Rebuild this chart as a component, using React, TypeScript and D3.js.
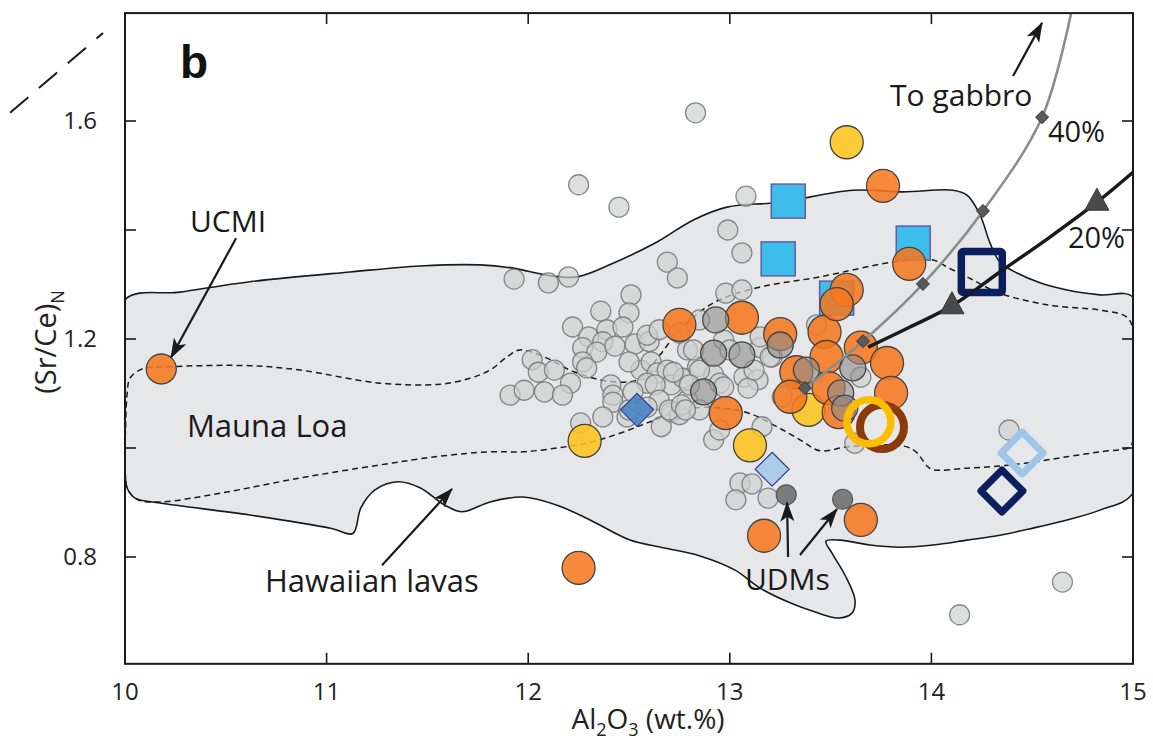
import React from 'react';
import * as d3 from 'd3';

type P = [number, number];

const X_TICKS = [10, 11, 12, 13, 14, 15];
const Y_TICKS = [0.8, 1.0, 1.2, 1.4, 1.6];
const Y_LABELS = [0.8, 1.2, 1.6];
const X_MIN = 10, X_MAX = 15, Y_MIN = 0.604, Y_MAX = 1.798;

const FIELD: P[] = [[10.000,1.272],[10.273,1.286],[10.620,1.305],[11.116,1.323],[11.463,1.334],[11.761,1.336],[11.925,1.330],[12.093,1.317],[12.242,1.314],[12.421,1.339],[12.639,1.378],[12.817,1.418],[12.986,1.442],[13.249,1.451],[13.611,1.473],[13.859,1.470],[14.107,1.473],[14.177,1.464],[14.241,1.428],[14.291,1.376],[14.340,1.341],[14.425,1.321],[14.539,1.303],[14.673,1.290],[14.836,1.281],[15.000,1.277],[15.05,1.1],[15.000,0.917],[14.836,0.886],[14.673,0.868],[14.504,0.853],[14.340,0.840],[14.177,0.831],[14.008,0.822],[13.844,0.818],[13.695,0.822],[13.547,0.831],[13.477,0.829],[13.507,0.807],[13.571,0.767],[13.621,0.721],[13.606,0.697],[13.537,0.688],[13.423,0.699],[13.299,0.716],[13.150,0.743],[13.026,0.776],[12.852,0.802],[12.669,0.817],[12.505,0.831],[12.307,0.868],[12.143,0.895],[11.974,0.910],[11.811,0.901],[11.672,0.883],[11.587,0.895],[11.463,0.927],[11.354,0.938],[11.240,0.923],[11.170,0.890],[11.130,0.843],[11.030,0.852],[10.620,0.877],[10.174,0.899],[10.050,0.908],[10.010,0.927],[10.000,0.960],[9.98,1.1]];

const MAUNA_LOA: P[] = [[10.010,1.097],[10.025,1.128],[10.084,1.145],[10.208,1.149],[10.620,1.151],[10.868,1.143],[11.265,1.119],[11.563,1.117],[11.711,1.128],[11.811,1.143],[11.895,1.167],[11.959,1.180],[12.093,1.165],[12.207,1.143],[12.356,1.125],[12.490,1.121],[12.555,1.128],[12.654,1.171],[12.753,1.217],[12.917,1.266],[13.135,1.294],[13.447,1.314],[13.810,1.341],[14.008,1.345],[14.077,1.332],[14.177,1.314],[14.340,1.284],[14.588,1.262],[14.836,1.253],[14.970,1.240],[15.000,1.217],[15.003,1.12],[15.000,1.015],[14.985,1.002],[14.836,0.993],[14.673,0.984],[14.504,0.974],[14.340,0.967],[14.177,0.963],[14.008,0.960],[13.978,0.967],[13.929,0.991],[13.879,1.002],[13.745,1.006],[13.581,1.002],[13.447,0.995],[13.348,1.015],[13.234,1.039],[13.075,1.066],[12.803,1.073],[12.604,1.048],[12.470,1.029],[12.371,1.017],[12.292,1.009],[12.143,1.000],[11.974,0.993],[11.811,0.993],[11.563,0.985],[11.265,0.969],[10.868,0.945],[10.471,0.917],[10.174,0.901],[10.064,0.905],[10.015,0.923],[10.000,0.960],[10.003,1.04]];

const HAWAII_PTS: P[] = [[12.83,1.615],[12.25,1.483],[12.45,1.442],[13.08,1.462],[12.99,1.400],[13.06,1.358],[12.69,1.341],[12.74,1.312],[11.93,1.310],[12.10,1.303],[12.20,1.314],[12.51,1.281],[12.36,1.251],[12.50,1.248],[12.22,1.222],[12.30,1.204],[12.39,1.217],[12.47,1.222],[12.37,1.195],[12.27,1.184],[12.34,1.176],[12.43,1.187],[12.53,1.191],[12.60,1.195],[12.59,1.207],[12.65,1.217],[12.27,1.158],[12.29,1.147],[12.02,1.162],[12.05,1.139],[12.13,1.143],[12.21,1.119],[12.41,1.116],[12.56,1.143],[12.61,1.158],[12.64,1.138],[12.69,1.143],[12.71,1.116],[12.59,1.119],[12.79,1.125],[11.91,1.097],[11.98,1.106],[12.08,1.103],[12.17,1.097],[12.42,1.097],[12.42,1.084],[12.37,1.057],[12.26,1.046],[12.49,1.057],[12.63,1.116],[12.65,1.088],[12.66,1.039],[12.71,1.066],[12.75,1.061],[12.79,1.088],[12.77,1.128],[12.72,1.139],[12.79,1.180],[12.84,1.149],[12.92,1.134],[12.95,1.119],[12.85,1.070],[12.92,1.015],[12.95,1.033],[13.07,1.130],[13.14,1.125],[13.09,1.110],[13.15,1.184],[13.21,1.167],[13.16,1.039],[13.05,0.936],[13.11,0.934],[13.03,0.905],[13.19,0.908],[12.98,1.284],[13.06,1.290],[13.62,1.009],[14.385,1.033],[14.65,0.754],[14.14,0.694],[12.50,1.070],[12.59,1.075],[12.70,1.070],[12.76,1.079],[12.85,1.235],[12.82,1.180],[12.75,1.211],[12.97,1.198],[13.00,1.180],[13.15,1.204],[13.20,1.167],[13.12,1.143],[12.97,1.112],[12.85,1.143],[12.80,1.116],[13.43,1.226],[13.26,1.094],[13.65,1.130],[12.78,1.070],[12.50,1.158],[12.52,1.103]];

const DARK_PTS: P[] = [[12.93,1.235],[12.92,1.174],[13.06,1.171],[12.87,1.103],[13.25,1.189],[13.38,1.143],[13.61,1.147],[13.55,1.101],[13.57,1.073]];
const UDM_PTS: P[] = [[13.28,0.914],[13.56,0.906]];
const ORANGE_PTS: P[] = [[12.25,0.780],[13.17,0.839],[13.65,0.868],[13.76,1.481],[13.89,1.338],[12.75,1.226],[13.06,1.239],[12.98,1.064],[13.25,1.209],[13.47,1.213],[13.58,1.290],[13.53,1.264],[13.65,1.184],[13.78,1.156],[13.48,1.167],[13.33,1.139],[13.30,1.094],[13.49,1.110],[13.54,1.066],[13.80,1.101]];
const UCMI_PT: P = [10.18, 1.145];
const YELLOW_PTS: P[] = [[13.58,1.561],[12.28,1.013],[13.10,1.005],[13.39,1.070]];
const BLUE_SQUARES: P[] = [[13.29,1.453],[13.24,1.347],[13.91,1.376],[13.53,1.275]];
const DIAMOND_DARK: P[] = [[12.54,1.070]];
const DIAMOND_LIGHT: P[] = [[13.21,0.961]];
const OPEN_SQUARE: P[] = [[14.25,1.323]];
const OPEN_DIAMOND_NAVY: P[] = [[14.35,0.921]];
const OPEN_DIAMOND_LIGHT: P[] = [[14.45,0.991]];
const RING_BROWN: P[] = [[13.755,1.0385]];
const RING_YELLOW: P[] = [[13.69,1.048]];

const GABBRO_CURVE: P[] = [[13.348,1.103],[13.373,1.110],[13.661,1.196],[13.958,1.301],[14.256,1.435],[14.549,1.607],[14.70,1.81]];
const GABBRO_MARKS: P[] = [[13.373,1.110],[13.661,1.196],[13.958,1.301],[14.256,1.435],[14.549,1.607]];
const MIX_CURVE: P[] = [[13.686,1.185],[13.894,1.222],[14.102,1.261],[14.340,1.323],[14.588,1.387],[14.821,1.451],[15.0,1.506]];
const MIX_MARKS: P[] = [[14.102,1.261],[14.821,1.451]];
const LEFT_DASH: P[] = [[9.43,1.615],[9.891,1.7615]];

const ARROWS: [P, P][] = [
  [[10.551,1.385],[10.228,1.166]],
  [[11.275,0.785],[11.622,0.925]],
  [[14.405,1.6826],[14.549,1.780]],
  [[13.289,0.800],[13.284,0.900]],
  [[13.348,0.8037],[13.532,0.888]],
];

const LABELS: { t: string; p: P; s: number }[] = [
  { t: 'UCMI', p: [10.322, 1.3963], s: 30 },
  { t: 'Mauna Loa', p: [10.3075, 1.0202], s: 31 },
  { t: 'Hawaiian lavas', p: [10.694, 0.7358], s: 31 },
  { t: 'UDMs', p: [13.075, 0.7394], s: 30 },
  { t: 'To gabbro', p: [13.795, 1.6275], s: 30 },
  { t: '40%', p: [14.578, 1.5615], s: 29 },
  { t: '20%', p: [14.677, 1.367], s: 29 },
];

const FONT = "'Open Sans', 'DejaVu Sans', sans-serif";

export default function App() {
  const x = d3.scaleLinear().domain([10, 15]).range([125, 1133]);
  const y = d3.scaleLinear().domain([0.8, 1.6]).range([557, 121]);
  const x0 = x(X_MIN), x1 = x(X_MAX), yT = y(Y_MAX), yB = y(Y_MIN);
  const closed = d3.line<P>().x(d => x(d[0])).y(d => y(d[1])).curve(d3.curveCatmullRomClosed.alpha(0.5));
  const open = d3.line<P>().x(d => x(d[0])).y(d => y(d[1])).curve(d3.curveCatmullRom.alpha(0.5));
  const straight = d3.line<P>().x(d => x(d[0])).y(d => y(d[1]));
  const dia = (cx: number, cy: number, r: number) => `M${cx},${cy - r}L${cx + r},${cy}L${cx},${cy + r}L${cx - r},${cy}Z`;
  const tri = (cx: number, cy: number) => `M${cx},${cy - 14}L${cx + 12},${cy + 8}L${cx - 12},${cy + 8}Z`;

  return (
    <svg width={1153} height={745} style={{ position: 'absolute', left: 0, top: 0, background: '#fff' }} fontFamily={FONT}>
      <defs>
        <clipPath id="plot"><rect x={x0} y={yT} width={x1 - x0} height={yB - yT} /></clipPath>
        <marker id="ah" viewBox="0 0 20 14" refX={19} refY={7} markerWidth={20} markerHeight={14} markerUnits="userSpaceOnUse" orient="auto">
          <path d="M0,0L20,7L0,14L5,7Z" fill="#1a1a1a" />
        </marker>
      </defs>
      <rect x={0} y={0} width={1153} height={745} fill="#fff" />
      <g clipPath="url(#plot)">
        <path d={closed(FIELD) || ''} fill="#e6e7e8" stroke="#1a1a1a" strokeWidth={1.6} />
        <path d={closed(MAUNA_LOA) || ''} fill="none" stroke="#1a1a1a" strokeWidth={1.5} strokeDasharray="6 4" />
        {BLUE_SQUARES.map((d, i) => (
          <rect key={'s' + i} x={x(d[0]) - 17} y={y(d[1]) - 17} width={34} height={34} fill="#3dbde9" stroke="#6a5aa0" strokeWidth={1.5} />
        ))}
        {HAWAII_PTS.map((d, i) => (
          <circle key={'g' + i} cx={x(d[0])} cy={y(d[1])} r={10} fill="#cfd0d0" fillOpacity={0.7} stroke="#777" strokeOpacity={0.85} strokeWidth={1.3} />
        ))}
        {DIAMOND_DARK.map((d, i) => (
          <path key={'dd' + i} d={dia(x(d[0]), y(d[1]), 16.5)} fill="#4a86c4" fillOpacity={0.92} stroke="#3c3c8c" strokeWidth={1.2} />
        ))}
        {DIAMOND_LIGHT.map((d, i) => (
          <path key={'dl' + i} d={dia(x(d[0]), y(d[1]), 17)} fill="#a9cbea" fillOpacity={0.95} stroke="#3c3c8c" strokeWidth={1.2} />
        ))}
        {YELLOW_PTS.map((d, i) => (
          <circle key={'y' + i} cx={x(d[0])} cy={y(d[1])} r={16.5} fill="#fdc41c" fillOpacity={0.88} stroke="#444" strokeWidth={1.3} />
        ))}
        {ORANGE_PTS.map((d, i) => (
          <circle key={'o' + i} cx={x(d[0])} cy={y(d[1])} r={16.5} fill="#f5781e" fillOpacity={0.87} stroke="#444" strokeWidth={1.3} />
        ))}
        <circle cx={x(UCMI_PT[0])} cy={y(UCMI_PT[1])} r={15} fill="#f5781e" fillOpacity={0.87} stroke="#444" strokeWidth={1.3} />
        {DARK_PTS.map((d, i) => (
          <circle key={'k' + i} cx={x(d[0])} cy={y(d[1])} r={13} fill="#8c8c8c" fillOpacity={0.6} stroke="#444" strokeWidth={1.3} />
        ))}
        {UDM_PTS.map((d, i) => (
          <circle key={'u' + i} cx={x(d[0])} cy={y(d[1])} r={10} fill="#7c7c7c" stroke="#555" strokeWidth={1.2} />
        ))}
        {RING_BROWN.map((d, i) => (
          <circle key={'rb' + i} cx={x(d[0])} cy={y(d[1])} r={22} fill="none" stroke="#8a3a0b" strokeWidth={8} />
        ))}
        {RING_YELLOW.map((d, i) => (
          <circle key={'ry' + i} cx={x(d[0])} cy={y(d[1])} r={22} fill="none" stroke="#fdbd00" strokeWidth={7.5} />
        ))}
        {OPEN_SQUARE.map((d, i) => (
          <rect key={'os' + i} x={x(d[0]) - 20.5} y={y(d[1]) - 20.5} width={41} height={41} rx={2} fill="none" stroke="#0b1f5e" strokeWidth={7.5} />
        ))}
        {OPEN_DIAMOND_LIGHT.map((d, i) => (
          <path key={'odl' + i} d={dia(x(d[0]), y(d[1]), 21)} fill="none" stroke="#9fc5e8" strokeWidth={7} strokeLinejoin="round" />
        ))}
        {OPEN_DIAMOND_NAVY.map((d, i) => (
          <path key={'odn' + i} d={dia(x(d[0]), y(d[1]), 21)} fill="none" stroke="#0b1f5e" strokeWidth={7} strokeLinejoin="round" />
        ))}
        <path d={open(GABBRO_CURVE) || ''} fill="none" stroke="#8c8c8c" strokeWidth={2.6} />
        <path d={open(MIX_CURVE) || ''} fill="none" stroke="#1a1a1a" strokeWidth={3.5} />
        {GABBRO_MARKS.map((d, i) => (
          <path key={'gm' + i} d={dia(x(d[0]), y(d[1]), 6.5)} fill="#5a5a5a" stroke="#333" strokeWidth={1} />
        ))}
        {MIX_MARKS.map((d, i) => (
          <path key={'mm' + i} d={tri(x(d[0]), y(d[1]))} fill="#4a4a4a" stroke="#333" strokeWidth={1} />
        ))}
      </g>
      <path d={straight(LEFT_DASH) || ''} fill="none" stroke="#1a1a1a" strokeWidth={2} strokeDasharray="24 14" />
      {ARROWS.map((a, i) => (
        <path key={'a' + i} d={straight(a) || ''} fill="none" stroke="#1a1a1a" strokeWidth={2.2} markerEnd="url(#ah)" />
      ))}
      {LABELS.map((l, i) => (
        <text key={'l' + i} x={x(l.p[0])} y={y(l.p[1])} fontSize={l.s} fill="#1a1a1a">{l.t}</text>
      ))}
      <text x={x(10.273)} y={y(1.679)} fontSize={46} fontWeight="bold" fontFamily="'Liberation Sans', Arial, sans-serif" fill="#111">b</text>
      <rect x={x0} y={yT} width={x1 - x0} height={yB - yT} fill="none" stroke="#1a1a1a" strokeWidth={2} />
      {X_TICKS.slice(1, -1).map(t => (
        <g key={'xt' + t}>
          <line x1={x(t)} x2={x(t)} y1={yB} y2={yB - 11} stroke="#1a1a1a" strokeWidth={1.6} />
          <line x1={x(t)} x2={x(t)} y1={yT} y2={yT + 11} stroke="#1a1a1a" strokeWidth={1.6} />
        </g>
      ))}
      {Y_TICKS.map(t => (
        <g key={'yt' + t}>
          <line x1={x0} x2={x0 + 11} y1={y(t)} y2={y(t)} stroke="#1a1a1a" strokeWidth={1.6} />
          <line x1={x1} x2={x1 - 11} y1={y(t)} y2={y(t)} stroke="#1a1a1a" strokeWidth={1.6} />
        </g>
      ))}
      {X_TICKS.map(t => (
        <text key={'xl' + t} x={x(t)} y={yB + 36} fontSize={24} textAnchor="middle" fill="#222">{t}</text>
      ))}
      {Y_LABELS.map(t => (
        <text key={'yl' + t} x={x0 - 28} y={y(t) + 8} fontSize={24} textAnchor="end" fill="#222">{t.toFixed(1)}</text>
      ))}
      <text x={648} y={729} fontSize={28} textAnchor="middle" fill="#222">
        Al<tspan fontSize={18} dy={7}>2</tspan><tspan dy={-7}>O</tspan><tspan fontSize={18} dy={7}>3</tspan><tspan dy={-7}> (wt.%)</tspan>
      </text>
      <text transform="translate(56,342) rotate(-90)" fontSize={29} textAnchor="middle" fill="#222">
        (Sr/Ce)<tspan fontSize={18} dy={8}>N</tspan>
      </text>
    </svg>
  );
}
